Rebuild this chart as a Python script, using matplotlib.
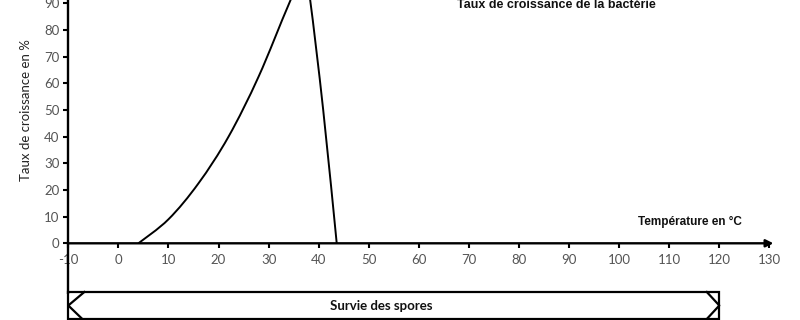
import matplotlib
matplotlib.use("Agg")
import matplotlib.pyplot as plt
from matplotlib.patches import Rectangle, PathPatch
from matplotlib.path import Path

# Growth rate of the bacterium versus temperature
temperature = [4, 10, 16, 22, 28, 34, 37.2, 38.3, 40.9, 43.6]
growth_rate = [0, 9, 22.5, 40, 62.5, 89.5, 102, 91.2, 50, 0]

x_ticks = list(range(-10, 140, 10))
y_ticks = list(range(0, 110, 10))

# Temperature range over which spores survive
spores_range = [-10, 120]


def smooth_path(xs, ys, tension=1 / 6):
    """Catmull-Rom style smooth path through the given points as cubic Beziers."""
    pts = list(zip(xs, ys))
    verts = [pts[0]]
    codes = [Path.MOVETO]
    n = len(pts)
    for i in range(n - 1):
        p0 = pts[i - 1] if i > 0 else pts[i]
        p1 = pts[i]
        p2 = pts[i + 1]
        p3 = pts[i + 2] if i + 2 < n else pts[i + 1]
        c1 = (p1[0] + (p2[0] - p0[0]) * tension, p1[1] + (p2[1] - p0[1]) * tension)
        c2 = (p2[0] - (p3[0] - p1[0]) * tension, p2[1] - (p3[1] - p1[1]) * tension)
        verts += [c1, c2, p2]
        codes += [Path.CURVE4] * 3
    return Path(verts, codes)


W, H = 800, 320
fig = plt.figure(figsize=(W / 100, H / 100), dpi=100)
fig.patch.set_facecolor("white")

# Axes frame in pixel coordinates
x0_px, x1_px = 68.3, 769.4
y0_px, y100_px = 243.3, 243.3 - 266.7
ax = fig.add_axes([x0_px / W, (H - y0_px) / H,
                   (x1_px - x0_px) / W, (y0_px - y100_px) / H])
ax.set_xlim(-10, 130)
ax.set_ylim(0, 100)
ax.patch.set_alpha(0)

for s in ("top", "right", "bottom"):
    ax.spines[s].set_visible(False)
ax.spines["left"].set_linewidth(1.7)

tick_font = dict(family="Lato", size=9.5, color="#555555")
ax.set_xticks(x_ticks)
ax.set_xticklabels([str(t) for t in x_ticks], fontdict=tick_font)
ax.set_yticks(y_ticks)
ax.set_yticklabels([str(t) for t in y_ticks], fontdict=tick_font)
ax.tick_params(axis="both", direction="out", length=3.5, width=1.5, color="black", pad=3)
ax.tick_params(axis="x", pad=4)

# X axis with arrow head
ax.annotate("", xy=(130.8, 0), xytext=(-10, 0),
            arrowprops=dict(arrowstyle="-|>", lw=1.7, color="black",
                            mutation_scale=11, shrinkA=0, shrinkB=0),
            annotation_clip=False)

# Left axis line continued down to the spores bar
ax.plot([-10, -10], [0, -19], color="black", lw=1.7, clip_on=False,
        solid_capstyle="butt")

ax.add_patch(PathPatch(smooth_path(temperature, growth_rate), fill=False,
                       edgecolor="black", lw=1.4))

ax.set_ylabel("Taux de croissance en %",
              fontdict=dict(family="Lato", size=9.5, color="#222222"))
ax.yaxis.set_label_coords(-36 / (x1_px - x0_px), 0.5)

ax.text(457 / W, 1 - 5 / H, "Taux de croissance de la bactérie",
        transform=fig.transFigure, family="Liberation Sans", weight="bold",
        size=9, ha="left", va="center", color="#111111")
ax.text(638 / W, 1 - 222 / H, "Température en °C",
        transform=fig.transFigure, family="Liberation Sans", weight="bold",
        size=8.5, ha="left", va="center", color="#111111")

# Spores survival bar
bar_top_px, bar_bot_px = 292, 319
bx = fig.add_axes([x0_px / W, (H - bar_bot_px) / H,
                   (x1_px - x0_px) / W, (bar_bot_px - bar_top_px) / H])
bx.set_xlim(-10, 130)
bx.set_ylim(0, 1)
bx.axis("off")
s0, s1 = spores_range
bx.add_patch(Rectangle((s0, 0), s1 - s0, 1, fill=False, lw=1.6,
                       edgecolor="black", clip_on=False))
bx.plot([s0 + 3.2, s0, s0 + 2.8], [1, 0.5, 0], color="black", lw=1.6, clip_on=False)
bx.plot([s1 - 2.5, s1, s1 - 2.5], [1, 0.5, 0], color="black", lw=1.6, clip_on=False)
bx.text((s0 + s1) / 2 - 2.5, 0.5, "Survie des spores", family="Lato", weight="bold",
        size=9.5, ha="center", va="center", color="#111111")

fig.savefig("out.png", dpi=100, facecolor="white")
